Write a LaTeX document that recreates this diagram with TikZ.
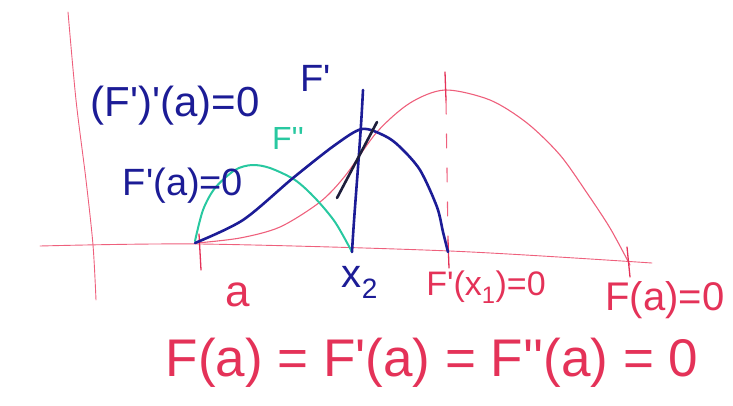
\documentclass[tikz,border=0pt]{standalone}
\usepackage{fontspec}
\setmainfont{Liberation Sans}
\definecolor{pinkred}{RGB}{238,96,124}
\definecolor{txtred}{RGB}{228,50,88}
\definecolor{penblue}{RGB}{28,28,150}
\definecolor{pengreen}{RGB}{40,200,160}
\definecolor{tanblack}{RGB}{30,30,60}
\newcommand{\pr}{\textquotesingle}
\begin{document}
\begin{tikzpicture}[x=1pt,y=-1pt,
  axisline/.style={pinkred, line width=0.9pt, line cap=round},
  fcurve/.style={pinkred, line width=1.1pt, line cap=round},
  tickmark/.style={txtred, line width=1.3pt, line cap=round},
  fpcurve/.style={penblue, line width=2.6pt, line cap=round, line join=round},
  fppcurve/.style={pengreen, line width=2pt, line cap=round},
  tangentline/.style={tanblack, line width=2.6pt, line cap=round},
  bluelabel/.style={penblue, inner sep=0pt},
  redlabel/.style={txtred, inner sep=0pt},
  greenlabel/.style={pengreen, inner sep=0pt}]
\useasboundingbox (0,0) rectangle (733,405);
% axes
\draw[axisline] plot[smooth] coordinates {(68,12) (76,100) (86,180) (93,245) (96,300)};
\draw[axisline] plot[smooth] coordinates {(40,246) (200,244) (450,251) (652,263)};
% F (red)
\draw[fcurve] plot[smooth] coordinates {(197,243) (240,238) (280,227) (320,202) (345,176) (377,132) (410,103) (445,90) (490,100) (527,123) (560,155) (587,193) (610,228) (630,265)};
% dashed line at x1
\draw[fcurve, dash pattern=on 14pt off 20pt] (446,100) -- (448,240);
% ticks
\draw[tickmark] (445,72) -- (446,100);
\draw[tickmark] (448,240) -- (449,268);
\draw[tickmark] (199,234) -- (201,270);
\draw[tickmark] (627,247) -- (630,277);
% F'' (green)
\draw[fppcurve] plot[smooth] coordinates {(195,241) (203,210) (215,188) (235,170) (252,165) (270,168) (295,180) (315,198) (335,222) (352,252)};
% F' (blue)
\draw[fpcurve] plot[smooth] coordinates {(195,243) (243,220) (293,178) (335,145) (362,129) (385,136) (400,147) (420,170) (437,207) (443,232) (448,252)};
% vertical line through maximum of F'
\draw[fpcurve] (363,90) .. controls (360,150) and (355,200) .. (352,252);
% tangent
\draw[tangentline] (337,198) -- (377,122);
% labels
\node[bluelabel, font=\fontsize{42}{42}\selectfont] (lfppa) at (175,106) {(F\pr)\pr(a)=0};
\node[bluelabel, font=\fontsize{38}{38}\selectfont] (lfpa) at (183,186) {F\pr(a)=0};
\node[bluelabel, font=\fontsize{38}{38}\selectfont] (lfp) at (316,78) {F\pr};
\node[greenlabel, font=\fontsize{32}{32}\selectfont] (lfpp) at (288,138) {F\pr\pr};
\node[bluelabel, font=\fontsize{40}{40}\selectfont] (lx2) at (360,282) {x\textsubscript{2}};
\node[redlabel, font=\fontsize{44}{44}\selectfont] (la) at (238,295) {a};
\node[redlabel, font=\fontsize{34}{34}\selectfont] (lx1) at (486,287) {F\pr(x\textsubscript{1})=0};
\node[redlabel, font=\fontsize{40}{40}\selectfont] (lfb) at (665,300) {F(a)=0};
\node[redlabel, font=\fontsize{53}{53}\selectfont] (lall) at (432,363) {F(a) = F\pr(a) = F\pr\pr(a) = 0};
\end{tikzpicture}
\end{document}
